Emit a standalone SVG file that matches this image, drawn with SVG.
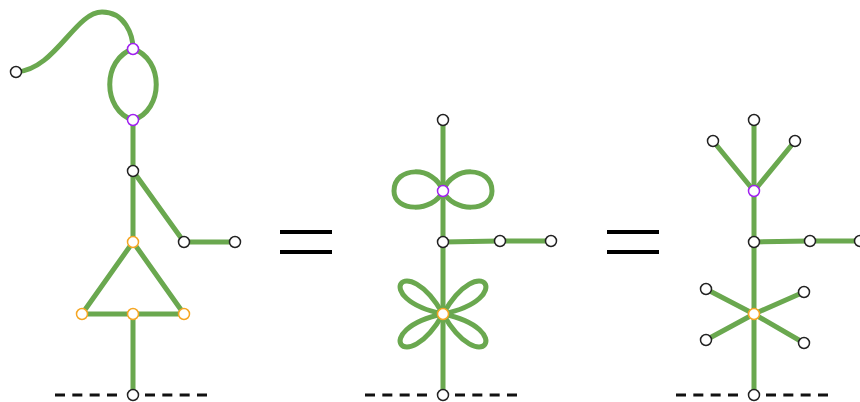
<svg xmlns="http://www.w3.org/2000/svg" width="860" height="402" viewBox="0 0 860 402">
<style>
.e{fill:none;stroke:#6aa84f;stroke-width:5;stroke-linecap:round;stroke-linejoin:round}
.d{fill:none;stroke:#111;stroke-width:3;stroke-dasharray:10 7.33}
.q{fill:none;stroke:#000;stroke-width:4}
.n{fill:#fff;stroke:#222;stroke-width:1.5}
.p{fill:#fff;stroke:#a020f0;stroke-width:1.5}
.o{fill:#fff;stroke:#f5a623;stroke-width:1.5}
</style>
<g id="grounds">
<line class="d" x1="55" y1="395" x2="117" y2="395"/>
<line class="d" x1="145" y1="395" x2="207" y2="395"/>
<line class="d" x1="365" y1="395" x2="427" y2="395"/>
<line class="d" x1="455" y1="395" x2="517" y2="395"/>
<line class="d" x1="676" y1="395" x2="738" y2="395"/>
<line class="d" x1="766" y1="395" x2="828" y2="395"/>
</g>
<g id="equals">
<line class="q" x1="280" y1="232" x2="332" y2="232"/>
<line class="q" x1="280" y1="252" x2="332" y2="252"/>
<line class="q" x1="607" y1="232" x2="659" y2="232"/>
<line class="q" x1="607" y1="252" x2="659" y2="252"/>
</g>
<g id="connectors">
<!-- figure 1 -->
<path class="e" d="M16,72 C55,70 75,12 102,12 C125,12 133,35 133,49"/>
<path class="e" d="M133,49 C102,59 102,110 133,120 C164,110 164,59 133,49"/>
<path class="e" d="M133,120 L133,242"/>
<path class="e" d="M133,314 L133,395"/>
<path class="e" d="M133,171 L184,242 L235,242"/>
<path class="e" d="M133,242 L82,314 L184,314 Z"/>
<!-- figure 2 -->
<path class="e" d="M443,120 L443,395"/>
<path class="e" d="M443,242 L500,241 L551,241"/>
<g transform="translate(443,191)">
<path class="e" d="M0,0 C-9,-26 -49,-25 -49,0 C-49,21 -10,22 0,0"/>
<path class="e" d="M0,0 C9,-26 49,-25 49,0 C49,21 10,22 0,0"/>
</g>
<g transform="translate(443,314)">
<path class="e" transform="rotate(-144)" d="M0,0 C69,-31 69,31 0,0"/>
<path class="e" transform="rotate(-36)" d="M0,0 C69,-31 69,31 0,0"/>
<path class="e" transform="rotate(144)" d="M0,0 C69,-31 69,31 0,0"/>
<path class="e" transform="rotate(36)" d="M0,0 C69,-31 69,31 0,0"/>
</g>
<!-- figure 3 -->
<path class="e" d="M754,120 L754,395"/>
<path class="e" d="M713,141 L754,191 L795,141"/>
<path class="e" d="M754,242 L810,241 L860,241"/>
<path class="e" d="M706,289 L754,314 L804,343"/>
<path class="e" d="M706,340 L754,314 L804,292"/>
</g>
<g id="f1-n1"><circle class="n" cx="16" cy="72" r="5.5"/></g>
<g id="f1-n2"><circle class="p" cx="133" cy="49" r="5.5"/></g>
<g id="f1-n3"><circle class="p" cx="133" cy="120" r="5.5"/></g>
<g id="f1-n4"><circle class="n" cx="133" cy="171" r="5.5"/></g>
<g id="f1-n5"><circle class="o" cx="133" cy="242" r="5.5"/></g>
<g id="f1-n6"><circle class="n" cx="184" cy="242" r="5.5"/></g>
<g id="f1-n7"><circle class="n" cx="235" cy="242" r="5.5"/></g>
<g id="f1-n8"><circle class="o" cx="82" cy="314" r="5.5"/></g>
<g id="f1-n9"><circle class="o" cx="133" cy="314" r="5.5"/></g>
<g id="f1-n10"><circle class="o" cx="184" cy="314" r="5.5"/></g>
<g id="f1-n11"><circle class="n" cx="133" cy="395" r="5.5"/></g>
<g id="f2-n1"><circle class="n" cx="443" cy="120" r="5.5"/></g>
<g id="f2-n2"><circle class="p" cx="443" cy="191" r="5.5"/></g>
<g id="f2-n3"><circle class="n" cx="443" cy="242" r="5.5"/></g>
<g id="f2-n4"><circle class="n" cx="500" cy="241" r="5.5"/></g>
<g id="f2-n5"><circle class="n" cx="551" cy="241" r="5.5"/></g>
<g id="f2-n6"><circle class="o" cx="443" cy="314" r="5.5"/></g>
<g id="f2-n7"><circle class="n" cx="443" cy="395" r="5.5"/></g>
<g id="f3-n1"><circle class="n" cx="754" cy="120" r="5.5"/></g>
<g id="f3-n2"><circle class="n" cx="713" cy="141" r="5.5"/></g>
<g id="f3-n3"><circle class="n" cx="795" cy="141" r="5.5"/></g>
<g id="f3-n4"><circle class="p" cx="754" cy="191" r="5.5"/></g>
<g id="f3-n5"><circle class="n" cx="754" cy="242" r="5.5"/></g>
<g id="f3-n6"><circle class="n" cx="810" cy="241" r="5.5"/></g>
<g id="f3-n7"><circle class="n" cx="860" cy="241" r="5.5"/></g>
<g id="f3-n8"><circle class="o" cx="754" cy="314" r="5.5"/></g>
<g id="f3-n9"><circle class="n" cx="706" cy="289" r="5.5"/></g>
<g id="f3-n10"><circle class="n" cx="804" cy="292" r="5.5"/></g>
<g id="f3-n11"><circle class="n" cx="706" cy="340" r="5.5"/></g>
<g id="f3-n12"><circle class="n" cx="804" cy="343" r="5.5"/></g>
<g id="f3-n13"><circle class="n" cx="754" cy="395" r="5.5"/></g>
</svg>
